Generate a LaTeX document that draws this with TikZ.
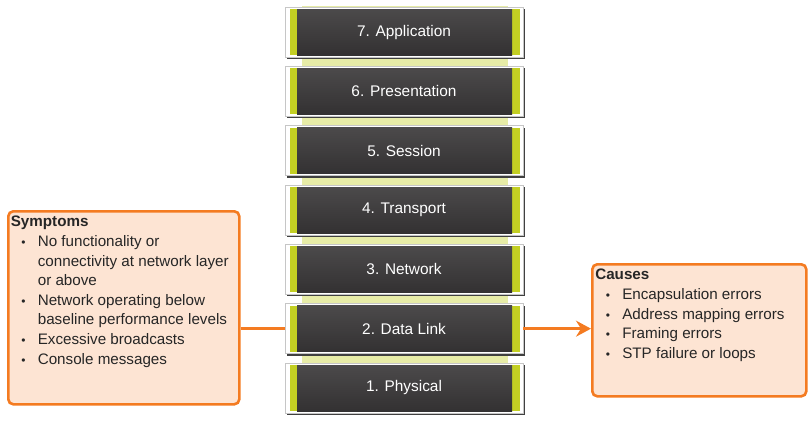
\documentclass[tikz,border=0pt]{standalone}
\usepackage{fontspec}
\setmainfont{Liberation Sans}
\usetikzlibrary{arrows.meta}

% bullet line with hanging indent
\newcommand\bitem[1]{\par\hangindent=27pt\hangafter=1\hspace*{10.5pt}\makebox[16.5pt][l]{\fontsize{12}{12}\selectfont\textbullet}#1}

\begin{document}
\begin{tikzpicture}[x=1pt,y=-1pt,
  note/.style={draw=linkorange,fill=notefill,line width=2.6pt,rounded corners=5pt,inner xsep=2.5pt,inner ysep=5pt,anchor=north west,font=\fontsize{15.2}{19.6}\selectfont,text=black!85},
  layertext/.style={minimum width=238pt,minimum height=50pt,inner sep=0pt,text=white,font=\fontsize{15.4}{18}\selectfont},
  link/.style={linkorange,line width=3.6pt}]
\definecolor{linkorange}{HTML}{F47B21};
\definecolor{notefill}{HTML}{FDE4D3};
\definecolor{layergreen}{HTML}{C3CF23};
\definecolor{layerdark}{HTML}{333132};
\colorlet{bandgreen}{layergreen!40!white};
\def\layerpitch{59.33};

\useasboundingbox (0,0) rectangle (811,423);

% Green band behind the layers
\fill[bandgreen] (302,6) rectangle (508,412);

% OSI layers
\foreach \n/\name in {1/Physical,2/Data Link,3/Network,4/Transport,5/Session,6/Presentation,7/Application}{
  \pgfmathsetmacro\yc{388-(\n-1)*\layerpitch}
  \fill[black!75] (286.5,\yc-23) rectangle (524.5,\yc+27);
  \fill[white,draw=gray!45,line width=0.6pt] (285,\yc-25) rectangle (523,\yc+25);
  \fill[layergreen] (290,\yc-23) rectangle (297,\yc+23);
  \fill[layergreen] (512,\yc-23) rectangle (520,\yc+23);
  \shade[top color=layerdark!88!white,bottom color=layerdark] (297,\yc-23) rectangle (512,\yc+23);
  \node[layertext] (lay\n) at (404,\yc) {\n. \name};
}

% Symptoms
\node[note] (symptoms) at (7,210) {\begin{minipage}[t][183pt][t]{226pt}
\textbf{Symptoms}
\bitem{No functionality or\\connectivity at network layer\\or above}
\bitem{Network operating below\\baseline performance levels}
\bitem{Excessive broadcasts}
\bitem{Console messages}
\end{minipage}};

% Causes
\node[note,inner xsep=3pt] (causes) at (591,263) {\begin{minipage}[t][122pt][t]{208pt}
\textbf{Causes}
\bitem{Encapsulation errors}
\bitem{Address mapping errors}
\bitem{Framing errors}
\bitem{STP failure or loops}
\end{minipage}};

% Links to the data link layer
\draw[link] (symptoms.east |- lay2.west) -- (lay2.west);
\draw[link,-{Stealth[length=15pt,width=16pt,inset=5pt]}] (lay2.east) -- (causes.west |- lay2.east);
\end{tikzpicture}
\end{document}
